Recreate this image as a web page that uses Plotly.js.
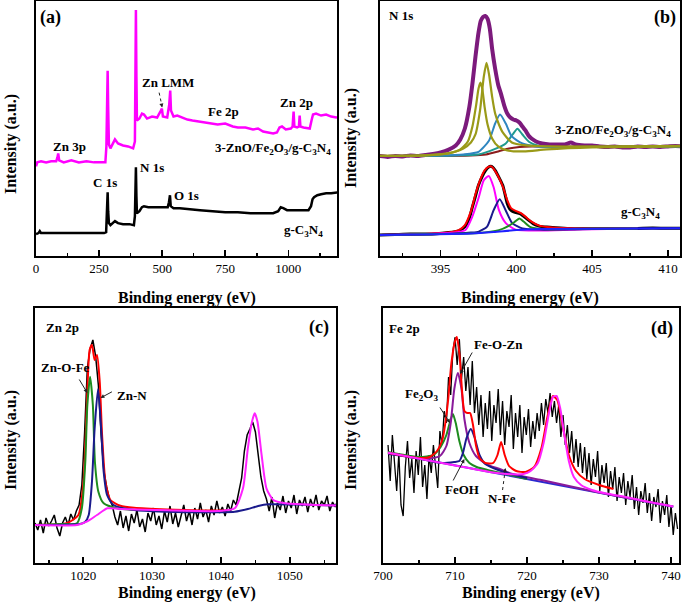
<!DOCTYPE html>
<html>
<head>
<meta charset="utf-8">
<script src="https://cdn.plot.ly/plotly-3.0.1.min.js"></script>
<style>
  html, body { margin: 0; padding: 0; background: #fff; }
  #chart { width: 685px; height: 603px; }
</style>
</head>
<body>
<div id="chart"></div>
<script>
// ---------- (a) survey spectra ----------
const surveyCompE = [0, 5, 20, 40, 60, 80, 85, 88, 92, 110, 140, 170, 200, 230, 260, 275, 279, 282, 284, 286, 289, 295, 305, 313, 325, 345, 365, 385, 392, 394, 396, 398, 400, 410, 420, 428, 440, 460, 480, 495, 499, 503, 520, 528, 532, 535, 545, 560, 580, 600, 620, 650, 680, 700, 720, 750, 780, 800, 830, 860, 880, 900, 920, 940, 955, 965, 975, 990, 1010, 1017, 1021, 1024, 1035, 1042, 1045, 1048, 1060, 1075, 1085, 1092, 1098, 1110, 1130, 1150, 1170, 1190, 1200];
const surveyCompI = [90, 94, 95, 94, 95, 95, 99, 103, 96, 94, 96, 94, 95, 94, 94, 94, 110, 170, 186, 150, 112, 108, 114, 117, 113, 111, 110, 108, 115, 200, 247, 180, 136, 138, 143, 142, 138, 140, 139, 146, 148, 140, 139, 152, 166, 146, 140, 141, 139, 137, 136, 135, 134, 133, 132, 133, 130, 129, 129, 127, 128, 125, 124, 123, 124, 129, 130, 127, 128, 130, 145, 130, 129, 130, 141, 130, 129, 128, 128, 136, 142, 143, 141, 142, 140, 139, 140];
const surveyCnE = [0, 10, 15, 20, 40, 80, 120, 160, 200, 240, 270, 278, 281, 284, 286, 289, 295, 305, 313, 325, 345, 370, 388, 392, 394, 396, 398, 400, 410, 420, 428, 445, 470, 500, 522, 527, 531, 534, 545, 570, 600, 650, 700, 750, 800, 850, 900, 940, 960, 970, 980, 995, 1020, 1050, 1080, 1090, 1096, 1102, 1115, 1130, 1150, 1170, 1200];
const surveyCnI = [22, 23, 25, 23, 23, 23, 23, 23, 23, 23, 23, 24, 45, 64, 45, 33, 31, 33, 35, 33, 32, 32, 31, 40, 70, 89, 60, 43, 45, 49, 50, 49, 49, 49, 49, 54, 61, 50, 48, 48, 47, 46, 45, 44, 44, 43, 43, 43, 45, 49, 48, 46, 46, 46, 46, 50, 57, 59, 61, 62, 63, 63, 64];

// ---------- (b) N 1s ----------
const n1sCompE = [390.9, 391.5, 392.0, 392.5, 393.0, 393.5, 394.0, 394.5, 395.0, 395.5, 396.0, 396.3, 396.6, 396.9, 397.1, 397.3, 397.5, 397.65, 397.8, 397.95, 398.1, 398.25, 398.4, 398.6, 398.8, 399.0, 399.2, 399.4, 399.6, 399.8, 400.0, 400.2, 400.4, 400.6, 400.8, 401.0, 401.3, 401.7, 402.2, 402.7, 403.2, 403.6, 403.9, 404.5, 405.0, 405.5, 406.0, 406.5, 407.0, 407.5, 408.0, 408.5, 409.0, 409.5, 410.0, 410.5, 411.0];
const n1sCompI = [100.5, 99.5, 100.5, 100, 101, 100.5, 101.5, 102.5, 104, 106.5, 111, 117, 128, 150, 173, 200, 224, 236, 240, 241, 238, 228, 208, 188, 172, 162, 151, 143, 139, 137, 136, 134, 130, 126, 121, 118, 115, 113, 112, 112, 112, 114, 112, 111, 111, 110, 109.5, 110, 109, 109, 110, 109.5, 110, 109.5, 110, 110.5, 110];
const n1sBgTopE = [390.9, 397, 398, 398.8, 399.5, 400.2, 401, 411];
const n1sBgTopI = [100.5, 101, 102, 105, 108, 109.5, 110, 110];
const n1sTealE = [390.9, 396, 397.5, 398.6, 399.3, 399.75, 400.07, 400.4, 400.85, 401.5, 402.5, 411];
const n1sTealI = [100.5, 101, 102, 107.5, 113, 122, 127.7, 122, 114.5, 110.5, 109.5, 110];
const n1sSteelE = [390.9, 395, 396.5, 397.5, 398.2, 398.6, 398.92, 399.3, 399.7, 400.4, 401.3, 402, 411];
const n1sSteelI = [100.5, 101, 102, 104.5, 116, 133, 142, 133, 120, 113, 110, 109.5, 110];
const n1sOlive1E = [390.9, 394, 395.5, 396.3, 396.8, 397.1, 397.35, 397.5, 397.63, 397.75, 397.9, 398.1, 398.4, 398.8, 399.4, 400.5, 402, 405, 411];
const n1sOlive1I = [100.5, 101, 103, 107, 115, 130, 152, 168, 174, 168, 150, 132, 118, 110, 106, 105, 107, 109, 110];
const n1sOlive2E = [390.9, 394, 395.5, 396.5, 397.0, 397.3, 397.6, 397.85, 398.03, 398.2, 398.4, 398.6, 398.85, 399.1, 399.7, 400.6, 402, 411];
const n1sOlive2I = [100.5, 101, 103, 108, 114, 122, 146, 180, 194, 182, 160, 143, 132, 124, 114, 111, 110, 110.5];

const n1sCnE = [390.9, 392, 393, 394, 394.9, 395.5, 396.2, 396.6, 396.9, 397.1, 397.3, 397.5, 397.75, 397.97, 398.15, 398.3, 398.45, 398.6, 398.85, 399.1, 399.25, 399.4, 399.55, 399.7, 400.0, 400.3, 400.55, 400.8, 401.1, 401.5, 402, 402.6, 403.5, 404.5, 405.9, 407, 408, 409, 410, 411];
const n1sCnI = [21, 21.5, 22, 22, 22.7, 23.5, 25.3, 29.3, 38, 49.3, 60, 71, 80, 86, 89, 90, 89, 86, 79, 71, 62, 52.7, 47.5, 45.3, 43.5, 42, 39, 36, 32.5, 30, 29, 28.3, 27.5, 27.5, 27.7, 27.5, 27.7, 28, 27.8, 28];
const n1sFitE = [390.9, 394, 395.5, 396.2, 396.6, 397.0, 397.3, 397.6, 397.9, 398.15, 398.35, 398.55, 398.8, 399.1, 399.4, 399.65, 400.0, 400.3, 400.6, 401, 401.5, 402.2, 403, 405, 408];
const n1sFitI = [21, 22, 23.5, 26, 31, 45, 62, 76, 86, 89.5, 90, 86.5, 80, 70, 56, 48, 45, 43, 39.5, 34.5, 30.5, 28.8, 28, 27.8, 27.8];
const n1sPinkE = [390.9, 394, 395.5, 396.2, 396.64, 397.08, 397.52, 397.85, 398.18, 398.5, 398.85, 399.3, 399.95, 401.5, 404, 408];
const n1sPinkI = [21, 22, 23, 24, 26, 39, 59, 76, 80.3, 69, 46, 33, 26.5, 25.5, 26.5, 27.5];
const n1sNavyE = [390.9, 395, 397, 397.52, 398.07, 398.5, 398.9, 399.29, 399.73, 400.4, 401.5, 405, 411];
const n1sNavyI = [21, 22, 23.5, 24.5, 29.5, 46, 57, 46, 33, 27.7, 26.5, 27, 28];
const n1sGreenE = [390.9, 395, 397.5, 398.85, 399.5, 399.95, 400.2, 400.5, 400.9, 401.8, 405, 408];
const n1sGreenI = [21, 22, 23, 26, 30.3, 35, 37.7, 34.3, 29.3, 27, 27.5, 27.7];
const n1sBgCnE = [390.9, 397, 398.5, 400, 401.5, 411];
const n1sBgCnI = [21, 22.5, 24, 26, 27, 28];

// ---------- (c) Zn 2p ----------
const zn2pE = [1013.0, 1013.4, 1013.8, 1014.2, 1014.6, 1015.0, 1015.4, 1015.8, 1016.2, 1016.6, 1017.0, 1017.4, 1017.8, 1018.2, 1018.6, 1019.0, 1019.4, 1019.8, 1020.2, 1020.6, 1021.0, 1021.4, 1021.8, 1022.2, 1022.6, 1023.0, 1023.4, 1023.8, 1024.2, 1024.6, 1025.0, 1025.4, 1025.8, 1026.2, 1026.6, 1027.0, 1027.4, 1027.8, 1028.2, 1028.6, 1029.0, 1029.4, 1029.8, 1030.2, 1030.6, 1031.0, 1031.4, 1031.8, 1032.2, 1032.6, 1033.0, 1033.4, 1033.8, 1034.2, 1034.6, 1035.0, 1035.4, 1035.8, 1036.2, 1036.6, 1037.0, 1037.4, 1037.8, 1038.2, 1038.6, 1039.0, 1039.4, 1039.8, 1040.2, 1040.6, 1041.0, 1041.4, 1041.8, 1042.2, 1042.6, 1043.0, 1043.4, 1043.8, 1044.2, 1044.6, 1045.0, 1045.4, 1045.8, 1046.2, 1046.6, 1047.0, 1047.4, 1047.8, 1048.2, 1048.6, 1049.0, 1049.4, 1049.8, 1050.2, 1050.6, 1051.0, 1051.4, 1051.8, 1052.2, 1052.6, 1053.0, 1053.4, 1053.8, 1054.2, 1054.6, 1055.0, 1055.4, 1055.8, 1056.2, 1056.6, 1057.0, 1057.4];
const zn2pI = [40, 33, 43, 30, 45, 37, 42, 48, 35, 27, 40, 46, 38, 49, 43, 52, 58, 78, 130, 195, 214, 223, 207, 178, 128, 92, 76, 64, 58, 46, 38, 52, 35, 47, 32, 49, 40, 53, 36, 44, 31, 50, 42, 55, 38, 47, 34, 52, 41, 57, 39, 50, 36, 48, 58, 42, 52, 38, 55, 44, 60, 46, 53, 41, 57, 48, 62, 50, 56, 47, 59, 52, 63, 58, 72, 85, 112, 128, 134, 141, 131, 108, 86, 72, 64, 52, 66, 45, 60, 53, 67, 50, 62, 55, 68, 49, 63, 57, 66, 51, 64, 56, 68, 53, 62, 58, 67, 52, 61, 56, 64, 58];
const zn2pFitE = [1013, 1017.6, 1019.3, 1020.04, 1020.54, 1020.93, 1021.27, 1021.66, 1022.0, 1022.4, 1022.74, 1023.23, 1023.95, 1025.4, 1027.4, 1032.2, 1037.1, 1041.0];
const zn2pFitI = [38, 39.7, 48, 81, 161, 213, 218, 203, 208, 181, 128, 81, 63, 57.3, 55.3, 53.5, 52.5, 52.5];
const zn2pOFeE = [1013, 1017, 1019.1, 1019.8, 1020.3, 1020.6, 1021.0, 1021.4, 1021.7, 1022.2, 1022.97, 1024.9, 1027.4];
const zn2pOFeI = [38, 39, 39.7, 54.7, 101, 158, 186.3, 158, 101, 71.3, 59.7, 54.7, 53];
const zn2pNE = [1013, 1019.5, 1020.3, 1020.8, 1021.27, 1021.66, 1022.15, 1022.6, 1022.97, 1023.46, 1024.4, 1027.4, 1032.2, 1037.1, 1042.0, 1043.9, 1045.4, 1046.9, 1057.4];
const zn2pNI = [38, 39, 41.3, 48, 81.3, 134.7, 174, 134.7, 91.3, 68, 58, 53, 51.3, 50.7, 51.3, 54, 57, 58.7, 57.3];
const zn2pHalfE = [1013, 1019.1, 1020.5, 1022.0, 1023.5, 1025.4, 1032.2, 1039.6, 1042.0, 1043.2, 1043.9, 1044.5, 1044.9, 1045.3, 1045.9, 1046.6, 1047.6, 1049.3, 1057.4];
const zn2pHalfI = [38, 38, 41.3, 48, 54.7, 54, 52.7, 52, 54.7, 74.7, 114.7, 141.3, 149.7, 141.3, 108, 74.7, 63, 59.7, 57.3];

// ---------- (d) Fe 2p ----------
const fe2pE = [700.7, 701.0, 701.3, 701.6, 701.9, 702.2, 702.5, 702.8, 703.1, 703.4, 703.7, 704.0, 704.3, 704.6, 704.9, 705.2, 705.5, 705.8, 706.1, 706.4, 706.7, 707.0, 707.3, 707.6, 707.9, 708.2, 708.5, 708.8, 709.1, 709.4, 709.7, 710.0, 710.3, 710.6, 710.9, 711.2, 711.5, 711.8, 712.1, 712.4, 712.7, 713.0, 713.3, 713.6, 713.9, 714.2, 714.5, 714.8, 715.1, 715.4, 715.7, 716.0, 716.3, 716.6, 716.9, 717.2, 717.5, 717.8, 718.1, 718.4, 718.7, 719.0, 719.3, 719.6, 719.9, 720.2, 720.5, 720.8, 721.1, 721.4, 721.7, 722.0, 722.3, 722.6, 722.9, 723.2, 723.5, 723.8, 724.1, 724.4, 724.7, 725.0, 725.3, 725.6, 725.9, 726.2, 726.5, 726.8, 727.1, 727.4, 727.7, 728.0, 728.3, 728.6, 728.9, 729.2, 729.5, 729.8, 730.1, 730.4, 730.7, 731.0, 731.3, 731.6, 731.9, 732.2, 732.5, 732.8, 733.1, 733.4, 733.7, 734.0, 734.3, 734.6, 734.9, 735.2, 735.5, 735.8, 736.1, 736.4, 736.7, 737.0, 737.3, 737.6, 737.9, 738.2, 738.5, 738.8, 739.1, 739.4, 739.7, 740.0, 740.3, 740.6, 740.9];
const fe2pI = [118, 82, 128, 95, 72, 110, 58, 47, 96, 122, 85, 104, 70, 112, 88, 126, 76, 98, 64, 108, 90, 118, 96, 75, 132, 118, 152, 140, 186, 168, 212, 226, 198, 224, 184, 206, 172, 196, 158, 202, 150, 176, 138, 168, 126, 160, 134, 172, 122, 158, 140, 174, 128, 162, 118, 152, 136, 168, 114, 150, 126, 158, 110, 146, 128, 154, 116, 142, 124, 150, 132, 160, 138, 164, 150, 170, 146, 162, 140, 158, 126, 148, 118, 138, 110, 132, 100, 124, 96, 120, 90, 116, 84, 110, 78, 104, 86, 112, 72, 98, 80, 100, 66, 92, 74, 96, 62, 86, 70, 90, 58, 82, 66, 88, 54, 76, 48, 72, 60, 80, 50, 70, 42, 66, 56, 74, 40, 62, 48, 68, 36, 58, 28, 50, 34];
const fe2pBgE = [700.7, 740.3];
const fe2pBgI = [110.3, 56.3];
const fe2pFitE = [700.7, 703, 705, 706.5, 707.5, 708.3, 709.0, 709.5, 710.0, 710.25, 710.6, 711.0, 711.3, 711.7, 712.1, 712.5, 712.9, 713.4, 714.2, 715.3, 715.9, 716.4, 716.9, 717.5, 718.5, 719.8, 721.0, 722.0, 722.8, 723.6, 724.2, 725.0, 725.8, 726.8, 728, 730, 732];
const fe2pFitI = [110, 107, 105, 106, 112, 125, 160, 200, 222, 226, 210, 170, 152, 150, 150, 138, 118, 105, 100, 100, 108, 121, 108, 97, 92, 91, 96, 115, 145, 167, 163, 135, 108, 92, 84, 78, 74];
const fe2pOxE = [700.7, 705, 707, 708, 708.8, 709.3, 709.7, 710.1, 710.6, 711.2, 712, 713, 714.5, 716, 718, 720];
const fe2pOxI = [111, 106, 108, 116, 128, 141, 149, 140, 122, 108, 100, 96, 93, 90.5, 87.5, 84];
const fe2pOZnE = [700.7, 705.6, 707.9, 708.8, 709.4, 709.9, 710.4, 710.9, 711.3, 712, 712.9, 714.3, 716.2, 718, 722, 730, 740.3];
const fe2pOZnI = [110.5, 104, 107, 117, 140, 174, 190, 174, 144, 120, 107, 99, 94, 89, 83, 70.5, 56.5];
const fe2pOHE = [700.7, 705, 708, 709.9, 710.6, 711.1, 711.6, 712.2, 712.7, 713.4, 714.2, 716, 718, 720];
const fe2pOHI = [109, 104.5, 100, 101, 102, 110, 125, 134, 126, 108, 99, 93, 88.5, 85];
const fe2pSatE = [700.7, 710, 715, 718, 719.5, 720.5, 721.5, 722.3, 723, 723.6, 724.1, 724.6, 725.2, 725.8, 726.5, 727.5, 729, 731, 734, 737, 740.3];
const fe2pSatI = [110.3, 97.6, 90.8, 88.7, 89, 92, 100, 120, 148, 166, 167, 155, 127, 102, 86, 78, 73, 69.5, 65.5, 61, 56.5];

const SERIF = "Liberation Serif, DejaVu Serif, serif";

function line(x, y, color, width, axis, shape) {
  return {
    x: x,
    y: y,
    mode: "lines",
    xaxis: "x" + axis,
    yaxis: "y" + axis,
    line: { color: color, width: width, shape: shape || "spline", smoothing: 0.6 },
    hoverinfo: "skip",
  };
}

const traces = [
  // (a)
  line(surveyCompE, surveyCompI, "#ff00ff", 2.5, "", "linear"),
  line(surveyCnE, surveyCnI, "#000000", 2.5, "", "linear"),
  // (b) top
  line(n1sCompE, n1sCompI, "#7c1a7c", 4, "2"),
  line(n1sBgTopE, n1sBgTopI, "#8b1c1c", 2, "2"),
  line(n1sTealE, n1sTealI, "#1f9a8e", 2, "2"),
  line(n1sSteelE, n1sSteelI, "#2f86c0", 2, "2"),
  line(n1sOlive1E, n1sOlive1I, "#9a9a18", 2.2, "2"),
  line(n1sOlive2E, n1sOlive2I, "#9a9a18", 2.2, "2"),
  // (b) bottom
  line(n1sCnE, n1sCnI, "#000000", 3, "2"),
  line(n1sFitE, n1sFitI, "#ff0000", 2, "2"),
  line(n1sPinkE, n1sPinkI, "#ff00ff", 2, "2"),
  line(n1sNavyE, n1sNavyI, "#1a1a8c", 2, "2"),
  line(n1sGreenE, n1sGreenI, "#1e8c1e", 2, "2"),
  line(n1sBgCnE, n1sBgCnI, "#2020ff", 2, "2"),
  // (c)
  line(zn2pE, zn2pI, "#000000", 1.5, "3", "linear"),
  line(zn2pFitE, zn2pFitI, "#ff0000", 2, "3"),
  line(zn2pOFeE, zn2pOFeI, "#1e8c1e", 2, "3"),
  line(zn2pNE, zn2pNI, "#1a1a8c", 2, "3"),
  line(zn2pHalfE, zn2pHalfI, "#ff22ff", 2, "3"),
  // (d)
  line(fe2pE, fe2pI, "#000000", 1.3, "4", "linear"),
  line(fe2pBgE, fe2pBgI, "#2a2ad0", 2, "4", "linear"),
  line(fe2pOxE, fe2pOxI, "#1e8c1e", 2, "4"),
  line(fe2pOZnE, fe2pOZnI, "#8a1a9a", 2, "4"),
  line(fe2pOHE, fe2pOHI, "#1a1a8c", 2, "4"),
  line(fe2pFitE, fe2pFitI, "#ff0000", 2, "4"),
  line(fe2pSatE, fe2pSatI, "#ff22ff", 2, "4"),
];

function xAxis(domain, range, dtick, minor, anchor) {
  return {
    domain: domain,
    range: range,
    anchor: anchor,
    tick0: 0,
    dtick: dtick,
    ticks: "inside",
    ticklen: 6,
    tickwidth: 1.5,
    tickcolor: "#000",
    ticklabelstandoff: -1,
    minor: { dtick: minor, ticks: "inside", ticklen: 3.5, tickwidth: 1.5, tickcolor: "#000" },
    showline: true,
    linewidth: 2,
    linecolor: "#000",
    mirror: true,
    showgrid: false,
    zeroline: false,
    tickfont: { family: SERIF, size: 13, color: "#000" },
  };
}

function yAxis(domain, range, anchor) {
  return {
    domain: domain,
    range: range,
    anchor: anchor,
    showticklabels: false,
    ticks: "",
    showline: true,
    linewidth: 2,
    linecolor: "#000",
    mirror: true,
    showgrid: false,
    zeroline: false,
  };
}

function px(x) { return x / 685; }
function py(y) { return 1 - y / 603; }

function boldFont(size) {
  return { family: SERIF, size: size, color: "#000", weight: "bold" };
}

function label(text, x, y, axis, size) {
  return {
    text: text,
    x: x,
    y: y,
    xref: "x" + axis,
    yref: "y" + axis,
    xanchor: "center",
    yanchor: "middle",
    showarrow: false,
    font: boldFont(size || 13),
  };
}

function arrow(x, y, ax, ay, axis) {
  return {
    text: "",
    x: x,
    y: y,
    ax: ax,
    ay: ay,
    xref: "x" + axis,
    yref: "y" + axis,
    showarrow: true,
    arrowhead: 2,
    arrowsize: 0.8,
    arrowwidth: 1,
    arrowcolor: "#222",
  };
}

// dashed leader line (the arrowhead is added with a short arrow())
function dashed(x0, y0, x1, y1, axis) {
  return {
    type: "line",
    x0: x0, y0: y0, x1: x1, y1: y1,
    xref: "x" + axis,
    yref: "y" + axis,
    line: { color: "#222", width: 1, dash: "dot" },
  };
}

function paperText(text, x, y, angle) {
  return {
    text: text,
    x: px(x),
    y: py(y),
    xref: "paper",
    yref: "paper",
    xanchor: "center",
    yanchor: "middle",
    showarrow: false,
    textangle: angle || 0,
    font: boldFont(16),
  };
}

const annotations = [
  // (a)
  label("(a)", 58, 239, "", 18),
  label("Zn 3p", 131, 110, ""),
  label("C 1s", 274, 74, ""),
  label("N 1s", 460, 89, ""),
  label("O 1s", 595, 61, ""),
  label("Zn LMM", 522, 174, ""),
  label("Fe 2p", 742, 145, ""),
  label("Zn 2p", 1032, 154, ""),
  label("3-ZnO/Fe<sub>2</sub>O<sub>3</sub>/g-C<sub>3</sub>N<sub>4</sub>", 940, 108, ""),
  label("g-C<sub>3</sub>N<sub>4</sub>", 1060, 26, ""),
  arrow(500, 149, -1, -5, ""),
  // (b)
  label("N 1s", 392.4, 241, "2"),
  label("(b)", 409.8, 239, "2", 18),
  label("3-ZnO/Fe<sub>2</sub>O<sub>3</sub>/g-C<sub>3</sub>N<sub>4</sub>", 406.4, 126, "2"),
  label("g-C<sub>3</sub>N<sub>4</sub>", 408.2, 44, "2"),
  // (c)
  label("Zn 2p", 1017.0, 236, "3"),
  label("(c)", 1054.2, 236, "3", 18),
  label("Zn-O-Fe", 1017.4, 196, "3"),
  label("Zn-N", 1027.1, 168, "3"),
  arrow(1020.6, 170, -9, -15, "3"),
  arrow(1022.5, 165, 13, -7, "3"),
  // (d)
  label("Fe 2p", 703.0, 235, "4"),
  label("(d)", 738.8, 235, "4", 18),
  label("Fe-O-Zn", 716.1, 219, "4"),
  label("Fe<sub>2</sub>O<sub>3</sub>", 705.3, 169, "4"),
  label("FeOH", 711.0, 74, "4"),
  label("N-Fe", 716.5, 65, "4"),
  arrow(710.7, 189, 13, -23, "4"),
  arrow(709.3, 140, -11, -17, "4"),
  arrow(711.3, 104, -12, 23, "4"),
  arrow(717.0, 95, -1, 6, "4"),
  // axis titles
  paperText("Intensity (a.u.)", 11, 144, -90),
  paperText("Intensity (a.u.)", 351, 138, -90),
  paperText("Intensity (a.u.)", 11, 440, -90),
  paperText("Intensity (a.u.)", 351, 440, -90),
  paperText("Binding energy (eV)", 187, 298),
  paperText("Binding energy (eV)", 530, 298),
  paperText("Binding energy (eV)", 187, 593),
  paperText("Binding energy (eV)", 531, 593),
];

const shapes = [
  dashed(488, 164, 499, 151, ""),
  dashed(716.6, 73, 716.95, 92, "4"),
];

const layout = {
  width: 685,
  height: 603,
  margin: { l: 0, r: 0, t: 0, b: 0 },
  paper_bgcolor: "#fff",
  plot_bgcolor: "#fff",
  showlegend: false,
  font: { family: SERIF, color: "#000" },
  xaxis: xAxis([px(36), px(337)], [0, 1193], 250, 125, "y"),
  yaxis: yAxis([py(256), py(1)], [0, 256], "x"),
  xaxis2: xAxis([px(380), px(680)], [391, 410.8], 5, 2.5, "y2"),
  yaxis2: yAxis([py(256), py(1)], [0, 256], "x2"),
  xaxis3: xAxis([px(35), px(336)], [1013, 1056.7], 10, 5, "y3"),
  yaxis3: yAxis([py(563), py(308)], [0, 255], "x3"),
  xaxis4: xAxis([px(383), px(679)], [700, 741.1], 10, 5, "y4"),
  yaxis4: yAxis([py(563), py(308)], [0, 255], "x4"),
  annotations: annotations,
  shapes: shapes,
};

Plotly.newPlot("chart", traces, layout, { displayModeBar: false, staticPlot: true });
</script>
</body>
</html>
